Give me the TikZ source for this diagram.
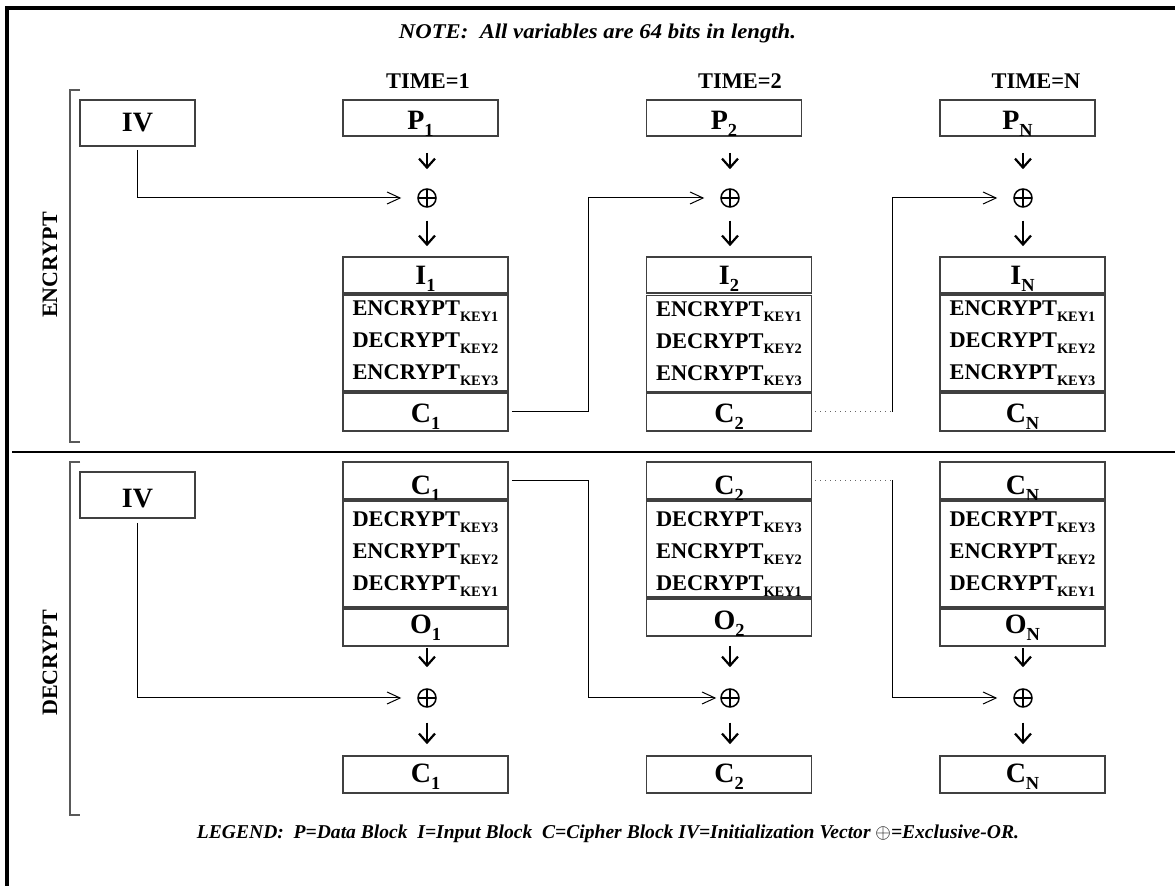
\documentclass[tikz,border=0pt]{standalone}
\usepackage{fontspec}
\setmainfont{Liberation Serif}
\usepackage{graphicx}
\usetikzlibrary{arrows.meta}
\newcommand{\lbl}[2]{{\fontsize{14}{15}\selectfont #1}\raisebox{-3.5pt}{\fontsize{9.2}{10}\selectfont #2}}
\newcommand{\op}[2]{#1\raisebox{-2.8pt}{\fontsize{7.2}{8}\selectfont KEY#2}}
\tikzset{box/.style={draw=black!75, line width=0.8pt, inner sep=0pt, font=\bfseries},
wide/.style={box, minimum width=82.5pt},
narrow/.style={box, minimum width=77.5pt, minimum height=18pt, text height=15pt, text depth=3pt},
ivblk/.style={box, minimum width=57.5pt, minimum height=23pt},
stack/.style={wide, align=left, font=\bfseries\fontsize{11.2}{16}\selectfont},
xor/.style={circle, draw, line width=0.75pt, minimum size=9pt, inner sep=0pt,
path picture={\draw[line width=0.75pt] (path picture bounding box.north) -- (path picture bounding box.south)
(path picture bounding box.west) -- (path picture bounding box.east);}},
downarr/.style={-{Straight Barb[length=4.5pt,width=8pt,line width=1.1pt]}, line width=0.9pt},
feed/.style={-{Straight Barb[length=6.5pt,width=6pt]}, line width=0.5pt},
dotlink/.style={dotted, line width=0.5pt, black!60},
brk/.style={line width=0.7pt, black!65},
timelbl/.style={anchor=base, font=\bfseries\fontsize{11.2}{13}\selectfont},
sidelbl/.style={rotate=90, font=\bfseries\fontsize{11}{13}\selectfont}}

\begin{document}
\begin{tikzpicture}[x=0.5pt,y=-0.5pt]
        \useasboundingbox (0,0) rectangle (1175,886);
        \draw[line width=2pt] (7,886) -- (7,8.5) -- (1175,8.5);
        \draw[line width=1pt] (12,452) -- (1175,452);
        \draw[brk] (80,90) -- (70,90) -- (70,442) -- (80,442);
        \draw[brk] (80,462) -- (70,462) -- (70,815) -- (80,815);

        \node[font=\bfseries\itshape\fontsize{10.5}{12}\selectfont] (note) at (597.5,33)
            {\resizebox{198.5pt}{\height}{NOTE:\ \ All variables are 64 bits in length.}};
        \node[timelbl] (t1) at (428,89) {TIME=1};
        \node[timelbl] (t2) at (740,89) {TIME=2};
        \node[timelbl] (t3) at (1036,89) {TIME=N};
        \node[sidelbl] (enc) at (50,265) {ENCRYPT};
        \node[sidelbl] (dec) at (50,663) {DECRYPT};

        \node[ivblk, text height=16pt, text depth=7pt] (iv) at (137.5,123) {\lbl{IV}{}};
        \node[narrow] (p1) at (420.5,118) {\lbl{P}{1}};
        \node[narrow] (p2) at (724,118) {\lbl{P}{2}};
        \node[narrow] (p3) at (1017.5,118) {\lbl{P}{N}};
        \node[xor] (x1) at (427,198) {};
        \node[xor] (x2) at (730,198) {};
        \node[xor] (x3) at (1023,198) {};
        \node[wide, minimum height=18pt, text height=14pt, text depth=4pt] (i1) at (425.5,275) {\lbl{I}{1}};
        \node[wide, minimum height=18pt, text height=14pt, text depth=4pt] (i2) at (729,275) {\lbl{I}{2}};
        \node[wide, minimum height=18pt, text height=14pt, text depth=4pt] (i3) at (1022.5,275) {\lbl{I}{N}};
        \node[stack, minimum height=48pt] (e1) at (425.5,343) {\op{ENCRYPT}{1}\\\op{DECRYPT}{2}\\\op{ENCRYPT}{3}};
        \node[stack, minimum height=48pt] (e2) at (729,343.5) {\op{ENCRYPT}{1}\\\op{DECRYPT}{2}\\\op{ENCRYPT}{3}};
        \node[stack, minimum height=48pt] (e3) at (1022.5,343) {\op{ENCRYPT}{1}\\\op{DECRYPT}{2}\\\op{ENCRYPT}{3}};
        \node[wide, minimum height=19pt, text height=15pt, text depth=4pt] (c1) at (425.5,412) {\lbl{C}{1}};
        \node[wide, minimum height=19pt, text height=15pt, text depth=4pt] (c2) at (729,412) {\lbl{C}{2}};
        \node[wide, minimum height=19pt, text height=15pt, text depth=4pt] (c3) at (1022.5,412) {\lbl{C}{N}};
        \coordinate (j1) at (588,198);
        \coordinate (j2) at (892,198);

        \node[ivblk, text height=18pt, text depth=5pt] (dv) at (137.5,495) {\lbl{IV}{}};
        \node[wide, minimum height=18.5pt, text height=16.5pt, text depth=2pt] (dc1) at (425.5,480.5) {\lbl{C}{1}};
        \node[wide, minimum height=18.5pt, text height=16.5pt, text depth=2pt] (dc2) at (729,480.5) {\lbl{C}{2}};
        \node[wide, minimum height=18.5pt, text height=16.5pt, text depth=2pt] (dc3) at (1022.5,480.5) {\lbl{C}{N}};
        \node[stack, minimum height=53pt] (d1) at (425.5,554) {\op{DECRYPT}{3}\\\op{ENCRYPT}{2}\\\op{DECRYPT}{1}};
        \node[stack, minimum height=48pt] (d2) at (729,549) {\rule{0pt}{12.5pt}\op{DECRYPT}{3}\\\op{ENCRYPT}{2}\\\op{DECRYPT}{1}};
        \node[stack, minimum height=53pt] (d3) at (1022.5,554) {\op{DECRYPT}{3}\\\op{ENCRYPT}{2}\\\op{DECRYPT}{1}};
        \node[wide, minimum height=18.5pt, text height=12.5pt, text depth=6pt] (o1) at (425.5,627.5) {\lbl{O}{1}};
        \node[wide, minimum height=18.5pt, text height=15.5pt, text depth=3pt] (o2) at (729,617.5) {\lbl{O}{2}};
        \node[wide, minimum height=18.5pt, text height=12.5pt, text depth=6pt] (o3) at (1022.5,627.5) {\lbl{O}{N}};
        \node[xor] (dx1) at (427,698) {};
        \node[xor] (dx2) at (730,698) {};
        \node[xor] (dx3) at (1023,698) {};
        \node[wide, minimum height=18.5pt, text height=13.5pt, text depth=5pt] (r1) at (425.5,774.5) {\lbl{C}{1}};
        \node[wide, minimum height=18.5pt, text height=13.5pt, text depth=5pt] (r2) at (729,774.5) {\lbl{C}{2}};
        \node[wide, minimum height=18.5pt, text height=13.5pt, text depth=5pt] (r3) at (1022.5,774.5) {\lbl{C}{N}};
        \coordinate (j3) at (588,698);
        \coordinate (j4) at (892,698);

        \node[font=\bfseries\itshape\fontsize{9.8}{12}\selectfont] (legend) at (608,834)
            {\resizebox{411pt}{\height}{LEGEND:\ \ P=Data Block\ \ I=Input Block\ \ C=Cipher Block IV=Initialization Vector $\oplus$=Exclusive-OR.}};

        \draw[downarr, shorten <=8pt, shorten >=9.5pt] (x1 |- p1.south) -- (x1);
        \draw[downarr, shorten <=8pt, shorten >=9.5pt] (x2 |- p2.south) -- (x2);
        \draw[downarr, shorten <=8pt, shorten >=9.5pt] (x3 |- p3.south) -- (x3);
        \draw[downarr, shorten <=6.5pt, shorten >=5pt] (x1) -- (x1 |- i1.north);
        \draw[downarr, shorten <=6.5pt, shorten >=5pt] (x2) -- (x2 |- i2.north);
        \draw[downarr, shorten <=6.5pt, shorten >=5pt] (x3) -- (x3 |- i3.north);
        \draw[feed, shorten <=1.5pt, shorten >=8pt] (iv) |- (x1);
        \draw[feed, shorten <=1.5pt, shorten >=8pt] (c1) -| (j1) -- (x2);
        \draw[dotlink, shorten <=1.5pt] (c2) -- (c2 -| j2);
        \draw[feed, shorten >=8pt] (c2 -| j2) -- (j2) -- (x3);

        \draw[downarr, shorten <=0.5pt, shorten >=10.5pt] (dx1 |- o1.south) -- (dx1);
        \draw[downarr, shorten <=4.5pt, shorten >=10.5pt] (dx2 |- o2.south) -- (dx2);
        \draw[downarr, shorten <=0.5pt, shorten >=10.5pt] (dx3 |- o3.south) -- (dx3);
        \draw[downarr, shorten <=7.5pt, shorten >=5.5pt] (dx1) -- (dx1 |- r1.north);
        \draw[downarr, shorten <=7.5pt, shorten >=5.5pt] (dx2) -- (dx2 |- r2.north);
        \draw[downarr, shorten <=7.5pt, shorten >=5.5pt] (dx3) -- (dx3 |- r3.north);
        \draw[feed, shorten <=2pt, shorten >=8pt] (dv) |- (dx1);
        \draw[feed, shorten <=1.5pt, shorten >=2pt] (dc1) -| (j3) -- (dx2);
        \draw[dotlink, shorten <=1.5pt] (dc2) -- (dc2 -| j4);
        \draw[feed, shorten >=8pt] (dc2 -| j4) -- (j4) -- (dx3);
    \end{tikzpicture}
\end{document}
